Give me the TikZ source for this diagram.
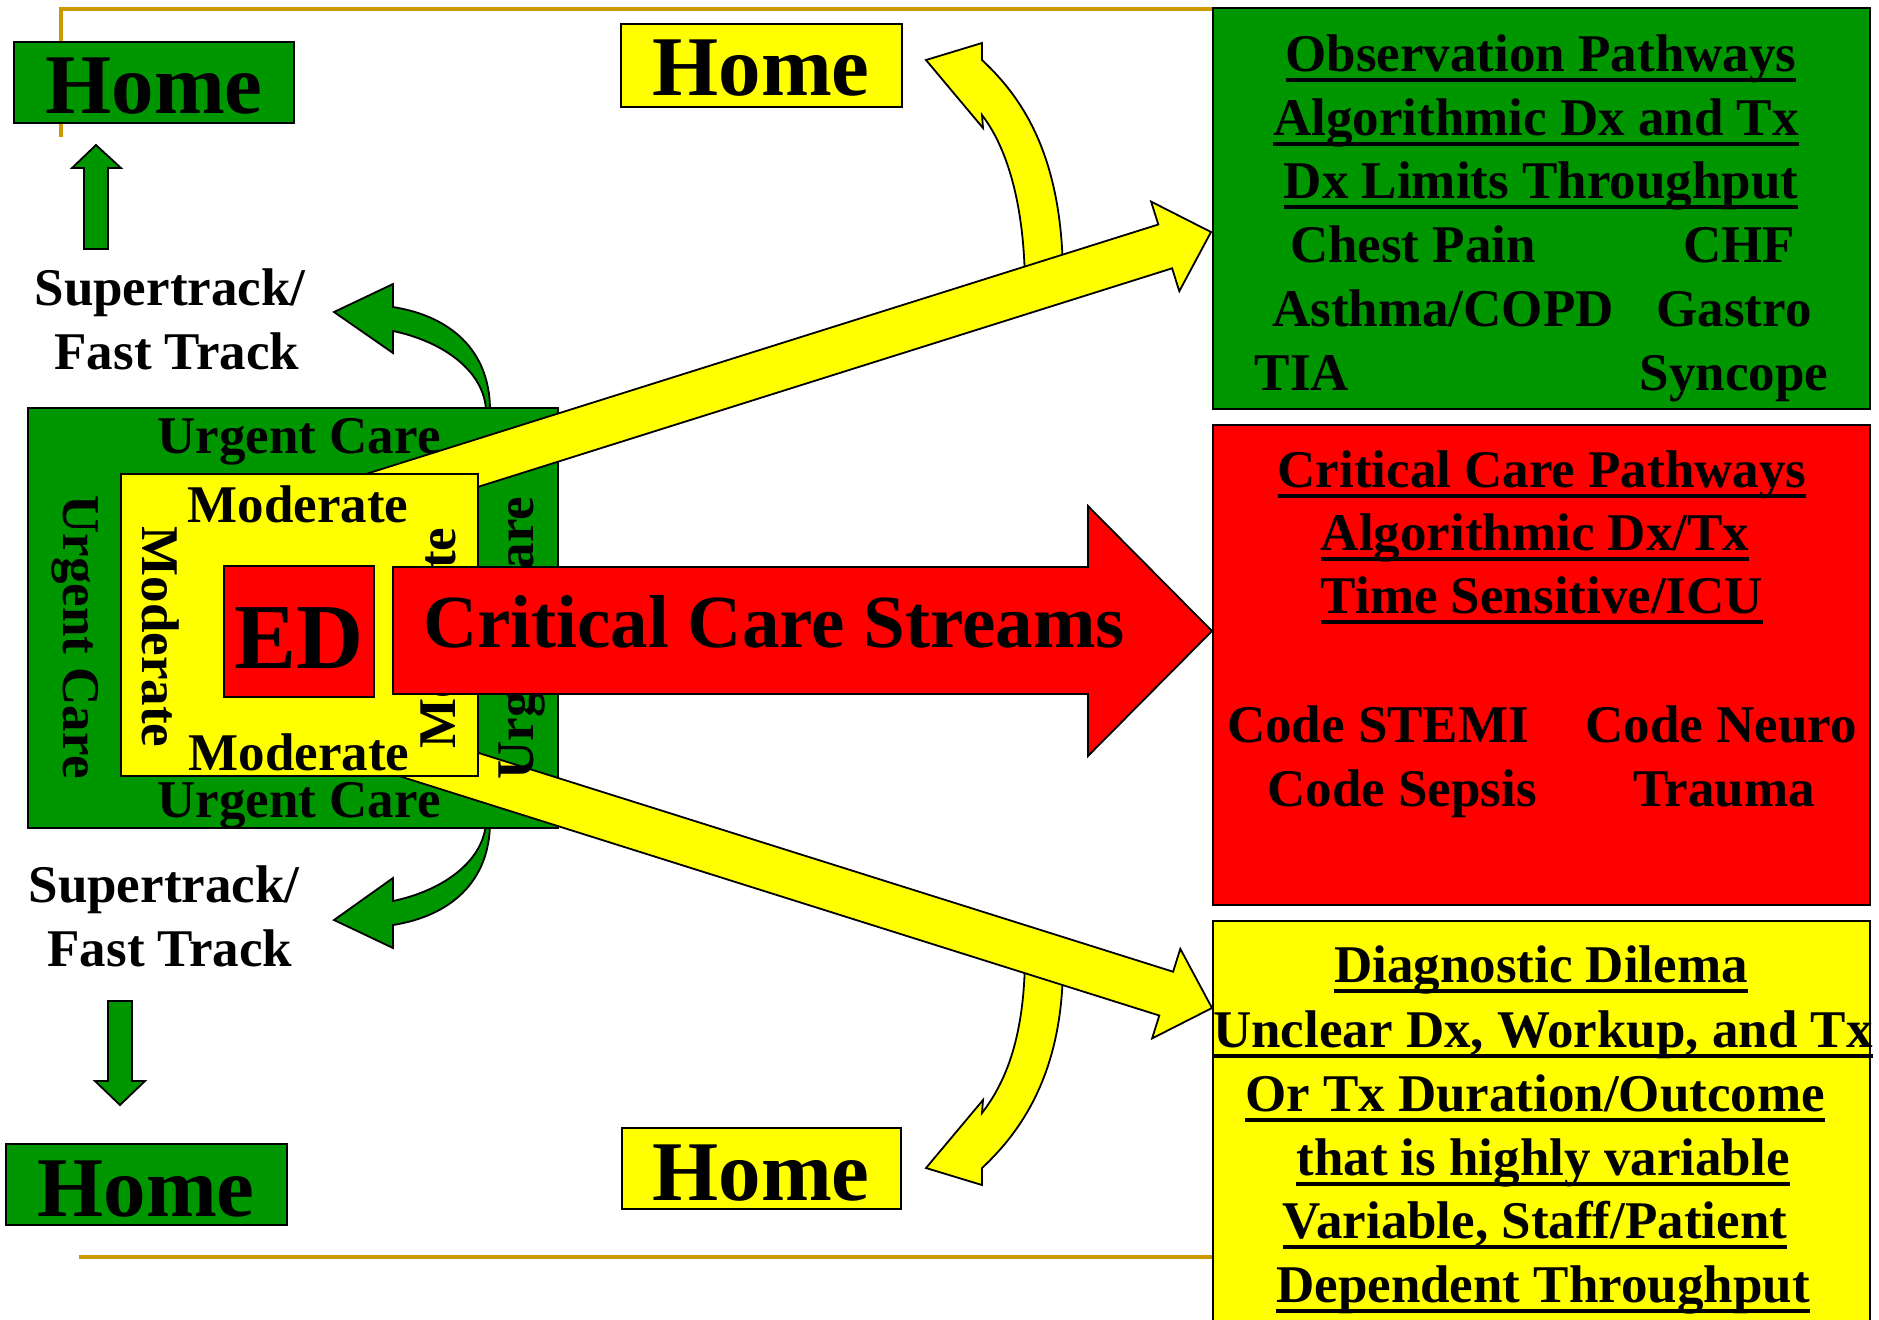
\documentclass[tikz,border=0pt]{standalone}
\usepackage{fontspec}
\setmainfont{Liberation Serif}
\usepackage{tikz}
\definecolor{boxgreen}{RGB}{0,150,0}
\definecolor{boxyellow}{RGB}{255,255,0}
\definecolor{boxred}{RGB}{255,0,0}
\definecolor{framegold}{RGB}{204,153,0}
\newcommand{\fnthome}{\fontsize{42.5pt}{50pt}\selectfont\bfseries}
\newcommand{\fnted}{\fontsize{46.5pt}{55pt}\selectfont\bfseries}
\newcommand{\fntstream}{\fontsize{37.5pt}{45pt}\selectfont\bfseries}
\newcommand{\fntmid}{\fontsize{26.5pt}{32pt}\selectfont\bfseries}
\newcommand{\ulin}[1]{\setbox0\hbox{#1}\rlap{\rule[-5.5pt]{\wd0}{2pt}}\box0}

\begin{document}
\begin{tikzpicture}[x=0.5pt,y=0.5pt,yscale=-1,xscale=1,
	greenbox/.style={draw=black,fill=boxgreen,line width=1.2pt},
	yellowbox/.style={draw=black,fill=boxyellow,line width=1.2pt},
	redbox/.style={draw=black,fill=boxred,line width=1.2pt},
	greenarrow/.style={draw=black,fill=boxgreen,line width=0.9pt,line join=miter},
	yellowarrow/.style={draw=black,fill=boxyellow,line width=0.9pt,line join=miter},
	redarrow/.style={draw=black,fill=boxred,line width=0.9pt,line join=miter},
	goldline/.style={draw=framegold,line width=2pt},
	lbl/.style={anchor=base,inner sep=0pt,font=\fntmid},
	homelbl/.style={anchor=base,inner sep=0pt,font=\fnthome},
	sidelbl/.style={anchor=center,inner sep=0pt,font=\fntmid}]
		\useasboundingbox (0,0) rectangle (1879,1319);
		\clip (0,0) rectangle (1879,1319);
		
		%Straight Lines: frame
		\draw [goldline] (61,137) -- (61,9) -- (1790,9) ;
		\draw [goldline] (79,1257) -- (1213,1257) ;
		
		%Shape: Rectangle (home boxes)
		\draw [greenbox] (14,42) rectangle (294,123) ;
		\draw [yellowbox] (621,24) rectangle (902,107) ;
		\draw [greenbox] (6,1144) rectangle (287,1225) ;
		\draw [yellowbox] (622,1128) rectangle (901,1209) ;
		% Text Node
		\node [homelbl] (homeTL) at (154,113) {Home};
		\node [homelbl] (homeTY) at (761,95) {Home};
		\node [homelbl] (homeBL) at (146,1216) {Home};
		\node [homelbl] (homeBY) at (761,1200) {Home};
		
		% Text Node
		\node [lbl] (fastUpA) at (170,305) {Supertrack/};
		\node [lbl] (fastUpB) at (177,369) {Fast Track};
		\node [lbl] (fastDnA) at (164,902) {Supertrack/};
		\node [lbl] (fastDnB) at (170,966) {Fast Track};
		
		%Shape: Up Arrow
		\draw [greenarrow] (84,249) -- (84,168) -- (72,168) -- (96,145) -- (121,168) -- (108,168) -- (108,249) -- cycle ;
		%Shape: Down Arrow
		\draw [greenarrow] (108,1001) -- (132,1001) -- (132,1081) -- (145,1081) -- (120,1105) -- (95,1081) -- (108,1081) -- cycle ;
		%Shape: Curved Arrows (green)
		\draw [greenarrow] (334,312) -- (393,284) -- (393,307) .. controls (450,316) and (490,350) .. (490,410) -- (486,410) .. controls (484,372) and (445,342) .. (393,331) -- (393,353) -- cycle ;
		\draw [greenarrow] (334,920) -- (393,948) -- (393,925) .. controls (450,916) and (490,882) .. (490,822) -- (486,822) .. controls (484,860) and (445,890) .. (393,901) -- (393,878) -- cycle ;
		
		%Shape: Rectangle (urgent care)
		\draw [greenbox] (28,408) rectangle (558,828) ;
		
		%Shape: Curved Arrows (yellow)
		\draw [yellowarrow] (926,60) -- (982,43) -- (982,60) .. controls (1025,100) and (1063,160) .. (1063,280) -- (1025,290) .. controls (1025,200) and (1005,145) .. (982,115) -- (983,128) -- cycle ;
		\draw [yellowarrow] (926,1168) -- (982,1185) -- (982,1168) .. controls (1025,1128) and (1063,1068) .. (1063,963) -- (1025,953) .. controls (1025,1038) and (1005,1083) .. (982,1113) -- (983,1100) -- cycle ;
		%Shape: Right Arrows (yellow)
		\draw [yellowarrow] (323.1,487.5) -- (1158.3,224.5) -- (1151.1,201.6) -- (1211,232) -- (1179.3,291.2) -- (1172.1,268.3) -- (336.9,531.3) -- cycle ;
		\draw [yellowarrow] (336.9,708.3) -- (1173.1,971.7) -- (1180.3,948.8) -- (1212,1008) -- (1152.1,1038.4) -- (1159.3,1015.5) -- (323.1,752.1) -- cycle ;
		
		%Shape: Rectangle (moderate, ED)
		\draw [yellowbox] (121,474) rectangle (478,776) ;
		\draw [redbox] (224,566) rectangle (374,697) ;
		
		% Text Node
		\node [lbl] (urgTop) at (299,453) {Urgent Care};
		\node [lbl] (urgBot) at (299,817) {Urgent Care};
		\node [sidelbl,rotate=-90] (urgLeft) at (75,637) {Urgent Care};
		\node [sidelbl,rotate=90] (urgRight) at (522,638) {Urgent Care};
		\node [lbl] (modTop) at (298,522) {Moderate};
		\node [lbl] (modBot) at (299,770) {Moderate};
		\node [sidelbl,rotate=-90] (modLeft) at (161,637) {Moderate};
		\node [sidelbl,rotate=90] (modRight) at (437,638) {Moderate};
		\node [anchor=base,inner sep=0pt,font=\fnted] (ed) at (299,668) {ED};
		
		%Shape: Right Arrow (red)
		\draw [redarrow] (393,567) -- (1088,567) -- (1088,506) -- (1212,631) -- (1088,756) -- (1088,694) -- (393,694) -- cycle ;
		\node [anchor=base,inner sep=0pt,font=\fntstream] (streams) at (774,647) {Critical Care Streams};
		
		%Shape: Rectangle (pathways)
		\draw [greenbox] (1213,8) rectangle (1870,409) ;
		\draw [redbox] (1213,425) rectangle (1870,905) ;
		\draw [yellowbox] (1213,921) rectangle (1870,1330) ;
		
		% Text Node
		\node [lbl] (obsA) at (1541,71) {\ulin{Observation Pathways}};
		\node [lbl] (obsB) at (1536,135) {\ulin{Algorithmic Dx and Tx}};
		\node [lbl] (obsC) at (1541,198) {\ulin{Dx Limits Throughput}};
		\node [lbl] (obsChest) at (1413,262) {Chest Pain};
		\node [lbl] (obsChf) at (1739,262) {CHF};
		\node [lbl] (obsAsthma) at (1443,326) {Asthma/COPD};
		\node [lbl] (obsGastro) at (1734,326) {Gastro};
		\node [lbl] (obsTia) at (1302,390) {TIA};
		\node [lbl] (obsSyncope) at (1734,390) {Syncope};
		% Text Node
		\node [lbl] (critA) at (1542,487) {\ulin{Critical Care Pathways}};
		\node [lbl] (critB) at (1535,550) {\ulin{Algorithmic Dx/Tx}};
		\node [lbl] (critC) at (1542,613) {\ulin{Time Sensitive/ICU}};
		\node [lbl] (critStemi) at (1378,742) {Code STEMI};
		\node [lbl] (critNeuro) at (1721,742) {Code Neuro};
		\node [lbl] (critSepsis) at (1402,806) {Code Sepsis};
		\node [lbl] (critTrauma) at (1724,806) {Trauma};
		% Text Node
		\node [lbl] (dxA) at (1541,982) {\ulin{Diagnostic Dilema}};
		\node [lbl] (dxB) at (1543,1047) {\ulin{Unclear Dx, Workup, and Tx}};
		\node [lbl] (dxC) at (1535,1111) {\ulin{Or Tx Duration/Outcome}};
		\node [lbl] (dxD) at (1543,1175) {\ulin{that is highly variable}};
		\node [lbl] (dxE) at (1535,1238) {\ulin{Variable, Staff/Patient}};
		\node [lbl] (dxF) at (1543,1302) {\ulin{Dependent Throughput}};
		
\end{tikzpicture}
\end{document}
